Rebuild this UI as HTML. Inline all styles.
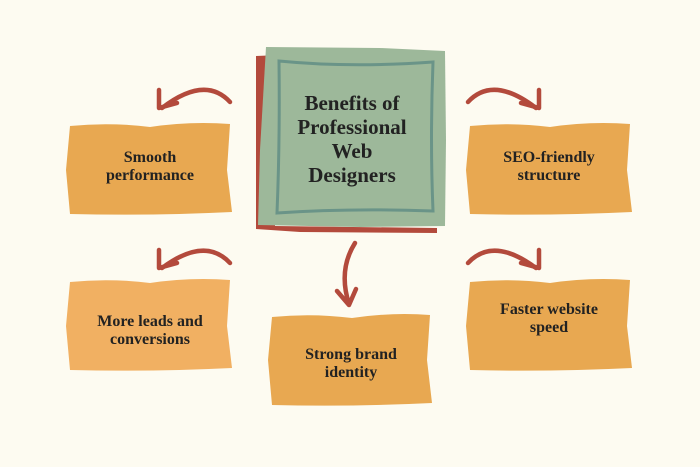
<!DOCTYPE html>
<html><head><style>
html,body{margin:0;padding:0;background:#fdfbf1;}
svg{display:block}
text{font-family:"Liberation Serif",serif;font-weight:bold;fill:#222;text-anchor:middle}
</style></head><body>
<svg width="700" height="467" viewBox="0 0 700 467" xmlns="http://www.w3.org/2000/svg">
<rect width="700" height="467" fill="#fdfbf1"/>
<path d="M256,56 L280,55 L275,226 L437,228 L437,233 L300,232 L256,229 Z" fill="#b34a3c"/>
<path d="M266,47 L380,48 L445,51 L446,140 L445,226 L360,227 L258,225 L260,150 Z" fill="#9db89a"/>
<path d="M279,61 Q350,68 433,62 Q430,140 433,211 Q350,208 277,213 Q280,140 279,61 Z" fill="none" stroke="#6a9488" stroke-width="3"/>
<g font-size="21">
<text x="352" y="110">Benefits of</text>
<text x="352" y="134">Professional</text>
<text x="352" y="158">Web</text>
<text x="352" y="182">Designers</text>
</g>
<path d="M70,126 Q110,122 150,127 Q190,121 230,124 L227,170 L232,212 Q150,216 70,214 L66,170 Z" fill="#e8a851"/>
<path d="M470,126 Q510,122 550,127 Q590,121 630,124 L627,170 L632,212 Q550,216 470,214 L466,170 Z" fill="#e8a851"/>
<path d="M70,282 Q110,278 150,283 Q190,277 230,280 L227,326 L232,368 Q150,372 70,370 L66,326 Z" fill="#f1b062"/>
<path d="M470,282 Q510,278 550,283 Q590,277 630,280 L627,326 L632,368 Q550,372 470,370 L466,326 Z" fill="#e8a851"/>
<path d="M272,317 Q312,313 352,318 Q392,312 430,315 L427,360 L432,403 Q350,407 272,405 L268,360 Z" fill="#e8a851"/>
<g font-size="16">
<text x="150" y="162">Smooth</text><text x="150" y="180">performance</text>
<text x="549" y="162">SEO-friendly</text><text x="549" y="180">structure</text>
<text x="150" y="326">More leads and</text><text x="150" y="344">conversions</text>
<text x="549" y="314">Faster website</text><text x="549" y="332">speed</text>
<text x="351" y="359">Strong brand</text><text x="351" y="377">identity</text>
</g>
<g fill="none" stroke="#b34a3c" stroke-width="4.5" stroke-linecap="round" stroke-linejoin="round">
<path d="M230,102 Q205,75 162,108"/><path d="M159,90 L159,108 L177,103"/>
<path d="M468,102 Q493,75 536,108"/><path d="M539,90 L539,108 L521,103"/>
<path d="M230,263 Q205,236 162,268"/><path d="M159,250 L159,268 L177,263"/>
<path d="M468,263 Q493,236 536,268"/><path d="M539,250 L539,268 L521,263"/>
<path d="M355,243 Q338,270 349,304"/><path d="M337,291 L349,305 L356,289"/>
</g>
</svg>
</body></html>
